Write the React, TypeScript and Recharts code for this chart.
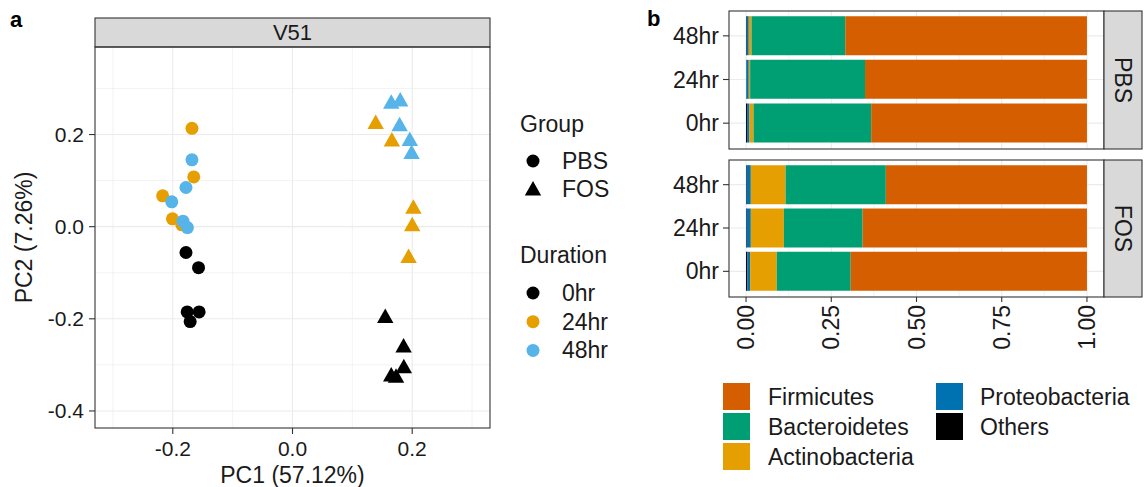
import React from 'react';
import {
  ScatterChart, Scatter, BarChart, Bar, XAxis, YAxis, ReferenceLine,
} from 'recharts';

// ---- panel a: PCA scores (PC1, PC2) ----
const pbs0hr = [[-0.178, -0.056], [-0.157, -0.089], [-0.176, -0.185], [-0.156, -0.185], [-0.171, -0.206]];
const pbs24hr = [[-0.168, 0.2135], [-0.165, 0.108], [-0.217, 0.067], [-0.2006, 0.017], [-0.185, 0.004]];
const pbs48hr = [[-0.168, 0.145], [-0.178, 0.085], [-0.2017, 0.054], [-0.183, 0.012], [-0.1756, -0.002]];
const fos0hr = [[0.155, -0.197], [0.1856, -0.261], [0.186, -0.306], [0.165, -0.324], [0.173, -0.327]];
const fos24hr = [[0.139, 0.224], [0.166, 0.186], [0.202, 0.04], [0.2, 0.002], [0.194, -0.067]];
const fos48hr = [[0.165, 0.268], [0.18, 0.273], [0.179, 0.219], [0.196, 0.187], [0.199, 0.159]];

const pcXTicks = [-0.2, 0, 0.2];
const pcYTicks = [-0.4, -0.2, 0, 0.2];
const pcXMinor = [-0.3, -0.1, 0.1, 0.3];
const pcYMinor = [-0.3, -0.1, 0.1, 0.3];

// ---- panel b: relative abundance, rows top to bottom ----
const durations = ['48hr', '24hr', '0hr'];
const phyla = ['Others', 'Proteobacteria', 'Actinobacteria', 'Bacteroidetes', 'Firmicutes'];
const pbsOthers = [0.002, 0.001, 0.003];
const pbsProteobacteria = [0.006, 0.007, 0.007];
const pbsActinobacteria = [0.008, 0.004, 0.012];
const pbsBacteroidetes = [0.275, 0.337, 0.345];
const pbsFirmicutes = [0.709, 0.651, 0.633];
const fosOthers = [0.002, 0.002, 0.004];
const fosProteobacteria = [0.012, 0.012, 0.008];
const fosActinobacteria = [0.102, 0.097, 0.078];
const fosBacteroidetes = [0.294, 0.231, 0.217];
const fosFirmicutes = [0.59, 0.658, 0.693];
const abTicks = [0, 0.25, 0.5, 0.75, 1];
const abMinor = [0.125, 0.375, 0.625, 0.875];

const durationColor: Record<string, string> = { '0hr': '#000000', '24hr': '#E69F00', '48hr': '#56B4E9' };
const phylumColor: Record<string, string> = {
  Firmicutes: '#D55E00',
  Bacteroidetes: '#009E73',
  Actinobacteria: '#E69F00',
  Proteobacteria: '#0072B2',
  Others: '#000000',
};

const FONT = '"Liberation Sans", Arial, Helvetica, sans-serif';
const TXT = '#1A1A1A';
const BORDER = '#333333';
const GRID = '#EBEBEB';

const toPoints = (arr: number[][]) => arr.map(([pc1, pc2]) => ({ pc1, pc2 }));

const rows = (o: number[], p: number[], a: number[], b: number[], f: number[]) =>
  durations.map((d, i) => ({
    duration: d,
    Others: o[i],
    Proteobacteria: p[i],
    Actinobacteria: a[i],
    Bacteroidetes: b[i],
    Firmicutes: f[i],
  }));

const pbsRows = rows(pbsOthers, pbsProteobacteria, pbsActinobacteria, pbsBacteroidetes, pbsFirmicutes);
const fosRows = rows(fosOthers, fosProteobacteria, fosActinobacteria, fosBacteroidetes, fosFirmicutes);

const Dot = (props: any) => <circle cx={props.cx} cy={props.cy} r={6.5} fill={props.fill} />;
const Tri = (props: any) => {
  const { cx, cy, fill } = props;
  return <polygon points={triPts(cx, cy)} fill={fill} />;
};
function triPts(cx: number, cy: number) {
  return `${cx},${cy - 9} ${cx - 8.2},${cy + 5.5} ${cx + 8.2},${cy + 5.5}`;
}

const RotTick = (props: any) => {
  const { x, y, payload } = props;
  return (
    <text x={x} y={y} transform={`rotate(-90 ${x} ${y})`} textAnchor="end" dy="0.35em"
      fontSize={23} fill={TXT} fontFamily={FONT}>
      {Number(payload.value).toFixed(2)}
    </text>
  );
};

const scatterSeries = [
  { name: 'pbs0', data: pbs0hr, d: '0hr', shape: Dot },
  { name: 'pbs24', data: pbs24hr, d: '24hr', shape: Dot },
  { name: 'pbs48', data: pbs48hr, d: '48hr', shape: Dot },
  { name: 'fos0', data: fos0hr, d: '0hr', shape: Tri },
  { name: 'fos24', data: fos24hr, d: '24hr', shape: Tri },
  { name: 'fos48', data: fos48hr, d: '48hr', shape: Tri },
];

const abs: React.CSSProperties = { position: 'absolute', left: 0, top: 0 };

function AbundanceChart({ data, showX, height, top }: { data: any[]; showX: boolean; height: number; top: number }) {
  const margin = { top: showX ? 10 : 11, right: 0, bottom: showX ? 3 : 1, left: 0 };
  const xProps = { type: 'number' as const, domain: [-0.05, 1.05], ticks: abTicks, allowDataOverflow: true, height: 60 };
  const yProps = { type: 'category' as const, dataKey: 'duration', width: 89, padding: { top: 3, bottom: 4 } };
  return (
    <div style={{ position: 'absolute', left: 640, top, width: 464, height }}>
      {/* grid layer underneath */}
      <div style={abs}>
        <BarChart width={464} height={height} data={data} layout="vertical" margin={margin}>
          <XAxis {...xProps} hide={!showX} axisLine={false} tick={false} tickLine={false} />
          <YAxis {...yProps} axisLine={false} tick={false} tickLine={false} />
          {abMinor.map(v => <ReferenceLine key={'m' + v} x={v} stroke={GRID} strokeWidth={0.6} />)}
          {abTicks.map(v => <ReferenceLine key={'M' + v} x={v} stroke={GRID} strokeWidth={1.1} />)}
          {durations.map(d => <ReferenceLine key={d} y={d} stroke={GRID} strokeWidth={1.1} />)}
        </BarChart>
      </div>
      <div style={abs}>
        <BarChart width={464} height={height} data={data} layout="vertical" margin={margin}
          barCategoryGap="5%">
          <XAxis {...xProps} hide={!showX} axisLine={false} tickSize={5} tickMargin={3}
            tickLine={{ stroke: BORDER, strokeWidth: 1.1 }} tick={<RotTick />} interval={0} />
          <YAxis {...yProps} axisLine={false} tickSize={6} tickMargin={4}
            tickLine={{ stroke: BORDER, strokeWidth: 1.1 }}
            tick={{ fontSize: 23, fill: TXT, fontFamily: FONT }} />
          {phyla.map(p => (
            <Bar key={p} dataKey={p} stackId="a" fill={phylumColor[p]} isAnimationActive={false} />
          ))}
        </BarChart>
      </div>
    </div>
  );
}

function PcaChart() {
  const margin = { top: 47, right: 10, bottom: 29, left: 35 };
  const xProps = { type: 'number' as const, dataKey: 'pc1', domain: [-0.33, 0.33], ticks: pcXTicks, allowDataOverflow: true, height: 30 };
  const yProps = { type: 'number' as const, dataKey: 'pc2', domain: [-0.437, 0.39], ticks: pcYTicks, allowDataOverflow: true, width: 60 };
  return (
    <div style={{ position: 'absolute', left: 0, top: 0, width: 500, height: 487 }}>
      <div style={abs}>
        <ScatterChart width={500} height={487} margin={margin}>
          <XAxis {...xProps} axisLine={false} tick={false} tickLine={false} />
          <YAxis {...yProps} axisLine={false} tick={false} tickLine={false} />
          {pcXMinor.map(v => <ReferenceLine key={'xm' + v} x={v} stroke={GRID} strokeWidth={0.6} />)}
          {pcYMinor.map(v => <ReferenceLine key={'ym' + v} y={v} stroke={GRID} strokeWidth={0.6} />)}
          {pcXTicks.map(v => <ReferenceLine key={'xM' + v} x={v} stroke={GRID} strokeWidth={1.1} />)}
          {pcYTicks.map(v => <ReferenceLine key={'yM' + v} y={v} stroke={GRID} strokeWidth={1.1} />)}
        </ScatterChart>
      </div>
      <div style={abs}>
        <ScatterChart width={500} height={487} margin={margin}>
          <XAxis {...xProps} axisLine={false} tickSize={6} tickMargin={7}
            tickLine={{ stroke: BORDER, strokeWidth: 1.1 }}
            tick={{ fontSize: 21, fill: TXT, fontFamily: FONT }}
            tickFormatter={(v: number) => v.toFixed(1)} />
          <YAxis {...yProps} axisLine={false} tickSize={6} tickMargin={5}
            tickLine={{ stroke: BORDER, strokeWidth: 1.1 }}
            tick={{ fontSize: 21, fill: TXT, fontFamily: FONT }}
            tickFormatter={(v: number) => v.toFixed(1)} />
          {scatterSeries.map(s => (
            <Scatter key={s.name} data={toPoints(s.data)} fill={durationColor[s.d]}
              shape={s.shape} isAnimationActive={false} />
          ))}
        </ScatterChart>
      </div>
    </div>
  );
}

export default function App() {
  return (
    <div style={{ position: 'absolute', left: 0, top: 0, width: 1144, height: 487, background: '#fff', fontFamily: FONT }}>
      <PcaChart />
      <AbundanceChart data={pbsRows} showX={false} height={150} top={0} />
      <AbundanceChart data={fosRows} showX={true} height={210} top={150} />

      <svg width={1144} height={487} style={{ position: 'absolute', left: 0, top: 0, pointerEvents: 'none' }}
        fontFamily={FONT}>
        {/* panel labels */}
        <text x={10} y={27} fontSize={22} fontWeight="bold" fill="#000">a</text>
        <text x={647} y={26} fontSize={22} fontWeight="bold" fill="#000">b</text>

        {/* panel a frame + strip */}
        <rect x={95} y={18} width={395} height={29} fill="#D9D9D9" stroke={BORDER} strokeWidth={1.1} />
        <text x={292.5} y={32.5} dy="0.35em" textAnchor="middle" fontSize={22} fill={TXT}>V51</text>
        <rect x={95} y={47} width={395} height={381} fill="none" stroke={BORDER} strokeWidth={1.1} />
        <text x={292.5} y={483} textAnchor="middle" fontSize={23} fill={TXT}>PC1 (57.12%)</text>
        <text x={24} y={237.5} dy="0.35em" textAnchor="middle" fontSize={23} fill={TXT}
          transform="rotate(-90 24 237.5)">PC2 (7.26%)</text>

        {/* panel a legend */}
        <text x={520} y={132} fontSize={23} fill={TXT}>Group</text>
        <circle cx={533} cy={161} r={6.5} fill="#000" />
        <text x={562} y={169} fontSize={23} fill={TXT}>PBS</text>
        <polygon points={triPts(533, 190)} fill="#000" />
        <text x={562} y={197} fontSize={23} fill={TXT}>FOS</text>
        <text x={520} y={263} fontSize={23} fill={TXT}>Duration</text>
        {['0hr', '24hr', '48hr'].map((d, i) => (
          <g key={d}>
            <circle cx={533} cy={293 + i * 28.7} r={6.5} fill={durationColor[d]} />
            <text x={562} y={301 + i * 28.7} fontSize={23} fill={TXT}>{d}</text>
          </g>
        ))}

        {/* panel b frames + strips */}
        <rect x={729} y={11} width={375} height={138} fill="none" stroke={BORDER} strokeWidth={1.1} />
        <rect x={1104} y={11} width={38} height={138} fill="#D9D9D9" stroke={BORDER} strokeWidth={1.1} />
        <text x={1123} y={80} dy="0.35em" textAnchor="middle" fontSize={23} fill={TXT}
          transform="rotate(90 1123 80)">PBS</text>
        <rect x={729} y={160} width={375} height={137} fill="none" stroke={BORDER} strokeWidth={1.1} />
        <rect x={1104} y={160} width={38} height={137} fill="#D9D9D9" stroke={BORDER} strokeWidth={1.1} />
        <text x={1123} y={228.5} dy="0.35em" textAnchor="middle" fontSize={23} fill={TXT}
          transform="rotate(90 1123 228.5)">FOS</text>

        {/* panel b legend */}
        {['Firmicutes', 'Bacteroidetes', 'Actinobacteria'].map((p, i) => (
          <g key={p}>
            <rect x={723} y={383 + i * 30} width={27} height={27} fill={phylumColor[p]} />
            <text x={768} y={404.5 + i * 30} fontSize={23} fill={TXT}>{p}</text>
          </g>
        ))}
        {['Proteobacteria', 'Others'].map((p, i) => (
          <g key={p}>
            <rect x={936} y={383 + i * 30} width={27} height={27} fill={phylumColor[p]} />
            <text x={980} y={404.5 + i * 30} fontSize={23} fill={TXT}>{p}</text>
          </g>
        ))}
      </svg>
    </div>
  );
}
